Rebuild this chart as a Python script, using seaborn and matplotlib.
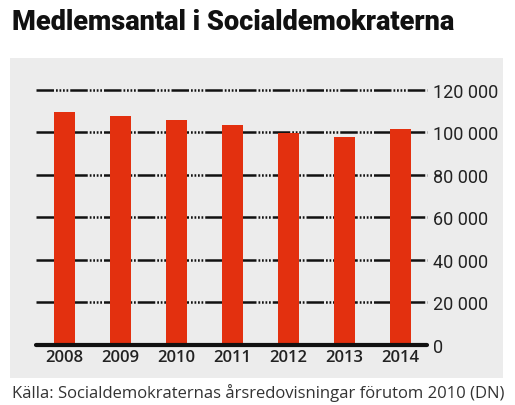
import numpy as np
import pandas as pd
import seaborn as sns
from matplotlib import pyplot as plt
from matplotlib.patches import Rectangle

years = ['2008', '2009', '2010', '2011', '2012', '2013', '2014']
members = [109600, 107700, 105800, 103600, 99500, 97600, 101700]
yticks = [0, 20000, 40000, 60000, 80000, 100000, 120000]
ytick_labels = ['0', '20 000', '40 000', '60 000', '80 000', '100 000', '120 000']

title = 'Medlemsantal i Socialdemokraterna'
source = 'Källa: Socialdemokraternas årsredovisningar förutom 2010 (DN)'

sns.set_theme(style="white")
narrow = ['Roboto', 'DejaVu Sans']
plt.rcParams['font.family'] = ['Open Sans', 'DejaVu Sans']

W, H = 515, 406
fig = plt.figure(figsize=(W / 100, H / 100), dpi=100)
fig.patch.set_facecolor('white')

# grey panel behind the chart
fig.patches.append(Rectangle((10 / W, 1 - 379 / H), 493 / W, 320 / H,
                             transform=fig.transFigure, facecolor='#ececec',
                             edgecolor='none', zorder=-5))

ax = fig.add_axes([36 / W, 1 - 346 / H, 391 / W, 266 / H])
ax.set_facecolor('none')
ax.set_zorder(2)

df = pd.DataFrame({'year': years, 'members': members})
sns.barplot(data=df, x='year', y='members', color='#e3300f', width=0.375,
            saturation=1, linewidth=0, ax=ax, zorder=3)

ax.set_xlim(-0.5, 6.47)
ax.set_ylim(0, 125000)

# dash-dot-dot gridlines
for v in yticks[1:]:
    ax.axhline(v, color='#111111', lw=1.8, zorder=1, clip_on=False,
               linestyle=(0, (7, 0.8, 0.7, 0.7, 0.7, 0.7, 0.7, 0.7, 0.7, 0.8)))
ax.axhline(0, color='#111111', lw=3, zorder=4, clip_on=False)

ax.yaxis.tick_right()
ax.set_yticks(yticks)
ax.set_yticklabels(ytick_labels, family=narrow, fontsize=13, color='#222222')
ax.tick_params(axis='y', length=0, pad=4)
ax.tick_params(axis='x', length=0, pad=3)
for lbl in ax.get_xticklabels():
    lbl.set_fontsize(12)
    lbl.set_fontweight('semibold')
    lbl.set_color('#222222')
ax.set_xlabel('')
ax.set_ylabel('')
for s in ax.spines.values():
    s.set_visible(False)

fig.text(12 / W, 1 - 22 / H, title, family=narrow, fontweight='black',
         fontsize=19.5, color='#111111', va='center', ha='left')
fig.text(12 / W, 1 - 393 / H, source, fontsize=12, color='#333333',
         va='center', ha='left')

fig.savefig('out.png', dpi=100)
